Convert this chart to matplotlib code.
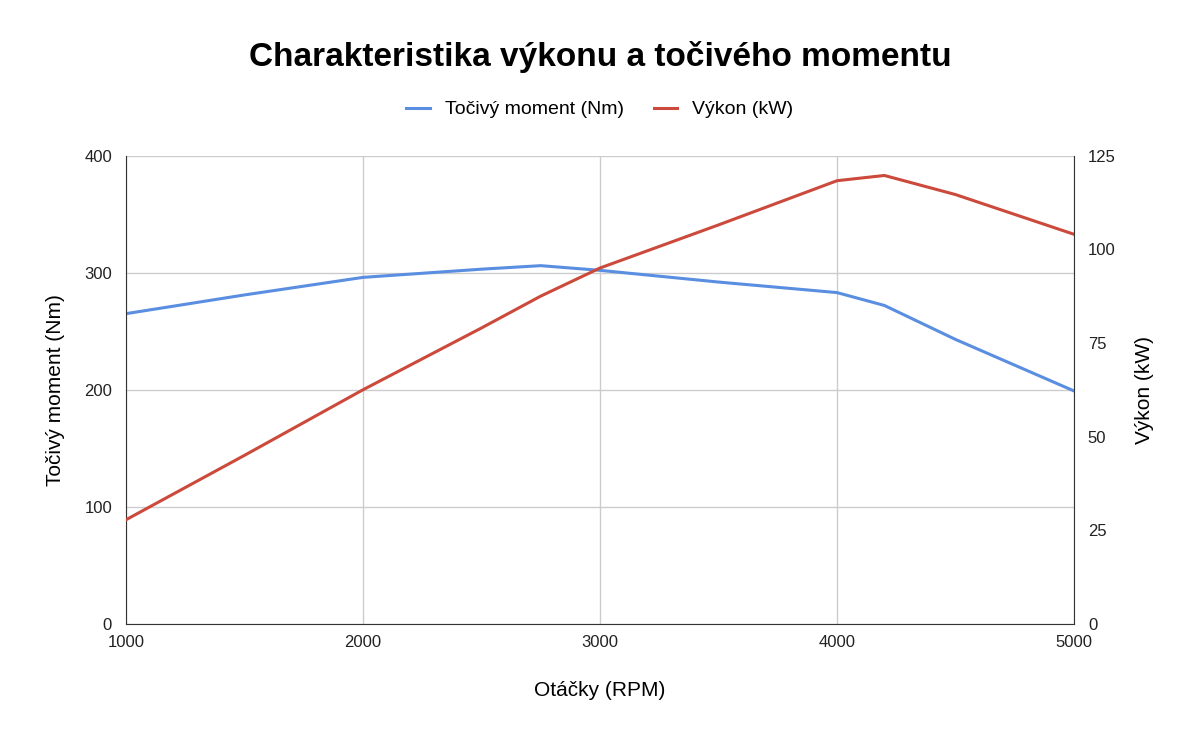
import matplotlib
matplotlib.use("agg")
import matplotlib.pyplot as plt

plt.rcParams['font.family'] = ['Liberation Sans', 'DejaVu Sans']

rpm = [1000, 1500, 2000, 2500, 2750, 3000, 3500, 4000, 4200, 4500, 5000]
torque = [265, 281, 296, 303, 306, 302, 292, 283, 272, 243, 199]
power = [27.8, 45.0, 62.5, 79.0, 87.5, 95.0, 106.5, 118.3, 119.7, 114.6, 104.0]

blue = '#5a8ee0'
red = '#cc4a3c'

fig = plt.figure(figsize=(12, 7.41), dpi=100)
ax1 = fig.add_axes([0.105, 0.158, 0.79, 0.632])
ax2 = ax1.twinx()

l1, = ax1.plot(rpm, torque, color=blue, lw=2.2, label='Točivý moment (Nm)')
l2, = ax2.plot(rpm, power, color=red, lw=2.2, label='Výkon (kW)')

ax1.set_xlim(1000, 5000)
ax1.set_ylim(0, 400)
ax2.set_ylim(0, 125)
ax1.set_xticks([1000, 2000, 3000, 4000, 5000])
ax1.set_yticks([0, 100, 200, 300, 400])
ax2.set_yticks([0, 25, 50, 75, 100, 125])
ax1.grid(True, color='#cccccc', lw=1)
for ax in (ax1, ax2):
    for s in ax.spines.values():
        s.set_visible(False)
    ax.tick_params(length=0, labelsize=12, colors='#222222', pad=10)
ax1.spines['left'].set_visible(True)
ax1.spines['bottom'].set_visible(True)
ax2.spines['right'].set_visible(True)
ax1.spines['left'].set_color('#333333')
ax1.spines['bottom'].set_color('#333333')
ax2.spines['right'].set_color('#333333')
ax1.tick_params(axis='x', pad=8)

ax1.set_xlabel('Otáčky (RPM)', fontsize=15, labelpad=22)
ax1.set_ylabel('Točivý moment (Nm)', fontsize=15, labelpad=14)
ax2.set_ylabel('Výkon (kW)', fontsize=15, labelpad=14)

fig.suptitle('Charakteristika výkonu a točivého momentu', fontsize=24,
             fontweight='bold', y=0.945)
fig.legend(handles=[l1, l2], loc='center', bbox_to_anchor=(0.5, 0.852), ncol=2,
           frameon=False, fontsize=14, handlelength=1.2, columnspacing=1.5)

fig.savefig('out.png', dpi=100, facecolor='white')
